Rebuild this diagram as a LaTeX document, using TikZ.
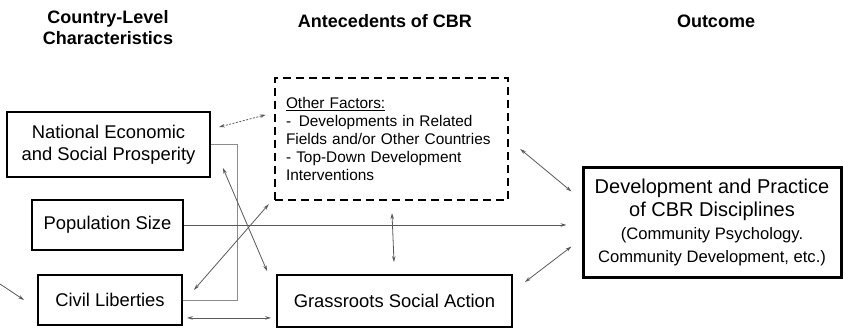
\documentclass[tikz,border=0pt]{standalone}
\usepackage{fontspec}
\setmainfont{Liberation Sans}
\usetikzlibrary{arrows.meta,calc}

\newcommand{\smalltext}{\fontsize{16.6}{21.5}\selectfont}

\begin{document}
\begin{tikzpicture}[
    x=1pt, y=-1pt,
    box/.style={rectangle, draw, line width=1.8pt, align=center, inner sep=0pt, font=\fontsize{18.4}{22}\selectfont},
    factorbox/.style={rectangle, draw, line width=2.4pt, dash pattern=on 8pt off 5pt, align=left, text width=211pt, inner xsep=11pt, inner ysep=0pt, minimum width=233pt, minimum height=122pt, font=\fontsize{15.4}{17.8}\selectfont},
    outcomebox/.style={rectangle, draw, line width=3pt, align=center, inner sep=0pt, minimum width=258pt, minimum height=110pt, font=\fontsize{20}{23}\selectfont},
    header/.style={align=center, font=\bfseries\fontsize{18}{21}\selectfont},
    link/.style={draw=black!65, line width=0.8pt},
    arrow/.style={link, -{Stealth[length=6pt,width=3.5pt]}},
    twoway/.style={link, {Stealth[length=6pt,width=3.5pt]}-{Stealth[length=6pt,width=3.5pt]}}
]
    \useasboundingbox (0,0) rectangle (844,329);

    % column headers
    \node [header] (hcountry) at (108,28) {Country-Level\\Characteristics};
    \node [header, anchor=base] (hante) at (385,28) {Antecedents of CBR};
    \node [header, anchor=base] (hout) at (716,28) {Outcome};

    % boxes
    \node [box, minimum width=203pt, minimum height=65pt] (nat) at (108.5,144.5) {National Economic\\and Social Prosperity};
    \node [box, minimum width=151pt, minimum height=50pt] (pop) at (107.5,225) {Population Size};
    \node [box, minimum width=144pt, minimum height=50pt] (civ) at (110,300) {Civil Liberties};
    \node [box, minimum width=235pt, minimum height=52pt] (grass) at (394.5,301) {Grassroots Social Action};
    \node [factorbox] (other) at (391.5,139) {\underline{Other Factors:}\\- \,Developments in Related\\Fields and/or Other Countries\\- Top-Down Development\\Interventions};
    \node [outcomebox] (dev) at (712,222) {Development and Practice\\of CBR Disciplines\\\smalltext (Community Psychology.\\\smalltext Community Development, etc.)};

    \coordinate (ext) at (0,284);

    % connectors
    \draw [twoway, dash pattern=on 2pt off 1.5pt] ($(nat.north east)+(8,16)$) -- ($(other.north west)+(-8,38)$);
    \draw [arrow] (ext) -- ($(civ.west)+(-13,0)$);
    \draw [link, draw=black!45] (nat.east) -- ++(26,0) |- (civ.east);
    \draw [twoway] ($(nat.south east)+(12,-10)$) -- ($(grass.north west)+(-9,-3)$);
    \draw [twoway] ($(civ.east)+(11,-10)$) -- ($(other.south west)+(-5,3)$);
    \draw [arrow, shorten >=15pt] (pop.east) -- (pop.east -| dev.west);
    \draw [twoway] ($(civ.south east)+(4,-8)$) -- ($(grass.south west)+(-5,-10)$);
    \draw [twoway, shorten <=12pt, shorten >=12pt] (other.south) -- (grass.north);
    \draw [twoway] ($(other.east)+(11,10)$) -- ($(dev.north west)+(-10,26)$);
    \draw [twoway] ($(grass.north east)+(12,8)$) -- ($(dev.south west)+(-10,-32)$);
\end{tikzpicture}
\end{document}
